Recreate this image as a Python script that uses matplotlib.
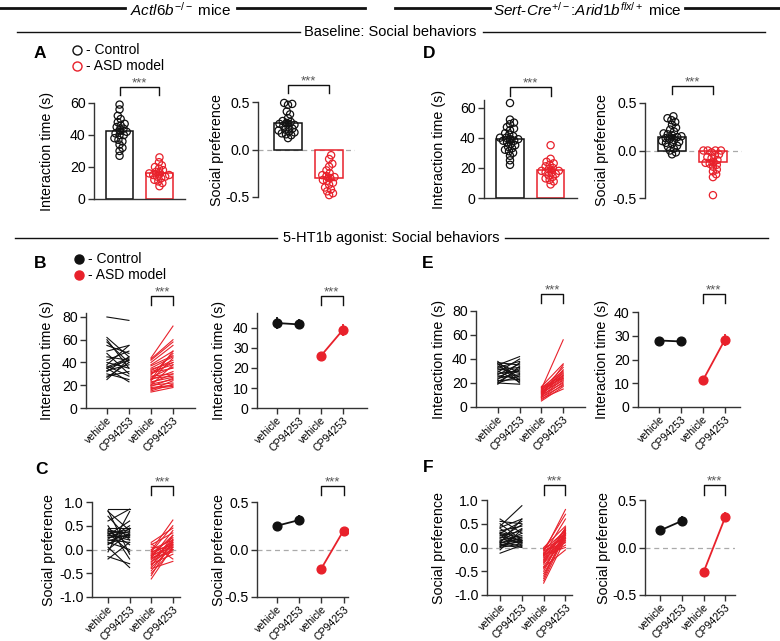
import numpy as np
import matplotlib
matplotlib.use('Agg')
import matplotlib.pyplot as plt
from matplotlib.lines import Line2D
from matplotlib import transforms

plt.rcParams['font.family'] = ['Liberation Sans', 'DejaVu Sans']
plt.rcParams['mathtext.fontset'] = 'custom'
plt.rcParams['mathtext.rm'] = 'Liberation Sans'
plt.rcParams['mathtext.it'] = 'Liberation Sans:italic'
plt.rcParams['axes.unicode_minus'] = False

W, H = 780, 641
RED = '#e8212b'
BLK = '#111111'
AXC = '#333333'

# ---- Baseline (A, D): individual animals ----
a_time_ctrl = [59, 56, 52, 50, 48, 47, 46, 45, 44, 43, 42, 41, 40, 40, 38, 37, 36, 34, 32, 30, 27]
a_time_asd = [26, 23, 21, 20, 19, 18, 17, 16, 16, 15, 15, 14, 14, 13, 12, 11, 10, 8]
a_pref_ctrl = [0.49, 0.48, 0.47, 0.40, 0.37, 0.33, 0.30, 0.29, 0.28, 0.27, 0.26,
               0.25, 0.24, 0.22, 0.21, 0.20, 0.19, 0.18, 0.17, 0.16, 0.15, 0.12]
a_pref_asd = [-0.06, -0.10, -0.15, -0.18, -0.22, -0.25, -0.27, -0.28, -0.29, -0.30,
              -0.32, -0.33, -0.35, -0.37, -0.40, -0.42, -0.44, -0.46, -0.48]
d_time_ctrl = [63, 52, 50, 49, 47, 46, 45, 43, 42, 41, 40, 40, 39, 39, 38, 38, 37, 36,
               35, 34, 33, 32, 31, 30, 28, 25, 22]
d_time_asd = [35, 26, 24, 23, 22, 21, 20, 19, 18, 18, 17, 17, 16, 15, 14, 13, 12, 11, 9]
d_pref_ctrl = [0.36, 0.34, 0.32, 0.30, 0.27, 0.24, 0.22, 0.20, 0.18, 0.17, 0.16, 0.15,
               0.14, 0.13, 0.12, 0.11, 0.10, 0.09, 0.08, 0.07, 0.05, 0.04, 0.02, 0.0, -0.02, -0.04]
d_pref_asd = [0.0, 0.0, 0.0, 0.0, -0.02, -0.04, -0.05, -0.07, -0.08, -0.10, -0.12, -0.13,
              -0.14, -0.15, -0.17, -0.20, -0.22, -0.25, -0.28, -0.47]

# ---- 5-HT1b agonist: paired (vehicle, CP94253) ----
b_ctrl = [(80, 77), (62, 45), (60, 35), (58, 40), (55, 48), (50, 55), (48, 30), (45, 42),
          (42, 50), (40, 35), (38, 55), (37, 28), (36, 44), (35, 42), (33, 38), (32, 45),
          (30, 25), (28, 32), (27, 40), (25, 43), (35, 23)]
b_asd = [(44, 72), (43, 60), (42, 58), (40, 55), (38, 50), (37, 46), (35, 45), (34, 40),
         (33, 42), (32, 38), (31, 35), (30, 40), (29, 48), (28, 30), (27, 36), (26, 28),
         (25, 32), (24, 44), (23, 27), (22, 30), (21, 25), (20, 22), (19, 26), (18, 20),
         (17, 19), (16, 24), (15, 21), (14, 18), (20, 38), (25, 50)]
e_ctrl = [(38, 22), (37, 35), (36, 20), (35, 42), (34, 25), (33, 38), (32, 28), (31, 33),
          (30, 21), (29, 40), (28, 30), (27, 36), (26, 24), (25, 32), (24, 27), (23, 37),
          (22, 23), (21, 31), (20, 26), (19, 34), (20, 19), (36, 29)]
e_asd = [(17, 36), (16, 30), (15, 56), (14, 28), (14, 33), (13, 25), (13, 26), (12, 22),
         (12, 29), (11, 24), (11, 31), (10, 20), (10, 27), (9, 23), (9, 35), (8, 18),
         (8, 21), (7, 15), (6, 19), (5, 17), (16, 26), (15, 24)]
c_ctrl = [(0.85, 0.85), (0.82, -0.1), (0.80, 0.4), (0.70, 0.2), (0.60, 0.85), (0.50, -0.2),
          (0.45, 0.45), (0.42, 0.3), (0.40, 0.1), (0.38, 0.35), (0.35, 0.25), (0.33, 0.42),
          (0.30, 0.2), (0.28, 0.38), (0.25, 0.30), (0.22, 0.5), (0.20, 0.15), (0.18, 0.32),
          (0.15, 0.0), (0.12, 0.28), (0.10, 0.45), (0.05, -0.38), (0.0, 0.35), (-0.05, 0.8),
          (-0.15, -0.3), (-0.2, 0.15), (0.3, 0.6), (0.35, -0.05)]
c_asd = [(0.15, 0.45), (0.1, 0.35), (0.05, 0.0), (0.0, 0.2), (-0.02, 0.62), (-0.05, 0.1),
         (-0.08, 0.25), (-0.1, 0.15), (-0.12, 0.05), (-0.13, 0.3), (-0.15, 0.12), (-0.17, -0.05),
         (-0.18, 0.4), (-0.2, 0.08), (-0.22, 0.18), (-0.25, 0.0), (-0.27, 0.22), (-0.3, -0.1),
         (-0.32, 0.1), (-0.35, 0.3), (-0.38, 0.05), (-0.4, -0.25), (-0.45, 0.15), (-0.5, 0.0),
         (-0.55, 0.2), (-0.62, 0.05), (0.12, -0.2), (-0.05, 0.5)]
f_ctrl = [(0.6, 0.3), (0.55, 0.5), (0.5, 0.15), (0.45, 0.88), (0.42, 0.6), (0.4, 0.1),
          (0.35, 0.45), (0.32, 0.2), (0.3, 0.55), (0.28, 0.05), (0.25, 0.35), (0.22, 0.15),
          (0.2, 0.48), (0.18, 0.1), (0.15, 0.25), (0.13, 0.4), (0.12, 0.02), (0.1, 0.18),
          (0.08, 0.3), (0.06, 0.12), (0.05, 0.0), (0.03, 0.22), (0.02, 0.15), (0.0, 0.08),
          (-0.05, 0.38), (-0.12, 0.05), (0.1, 0.6), (0.3, 0.12)]
f_asd = [(0.0, 0.45), (-0.02, 0.2), (-0.05, 0.35), (-0.07, 0.1), (-0.1, 0.8), (-0.12, 0.3),
         (-0.13, 0.25), (-0.15, 0.0), (-0.17, 0.4), (-0.18, 0.15), (-0.2, 0.32), (-0.22, 0.05),
         (-0.25, 0.38), (-0.27, 0.2), (-0.3, 0.28), (-0.32, 0.12), (-0.35, 0.42), (-0.4, 0.25),
         (-0.42, -0.05), (-0.45, 0.3), (-0.5, 0.35), (-0.55, 0.22), (-0.6, 0.3), (-0.65, 0.35),
         (-0.7, 0.28), (-0.75, 0.18), (-0.05, 0.7), (-0.15, 0.6)]

# group means +- SEM (vehicle, CP94253)
b_mean_ctrl, b_sem_ctrl = [42.5, 41.8], [2.8, 2.5]
b_mean_asd, b_sem_asd = [26.0, 39.0], [1.2, 3.0]
e_mean_ctrl, e_sem_ctrl = [28.0, 27.6], [0.9, 0.9]
e_mean_asd, e_sem_asd = [11.2, 28.2], [1.0, 2.5]
c_mean_ctrl, c_sem_ctrl = [0.25, 0.31], [0.04, 0.05]
c_mean_asd, c_sem_asd = [-0.20, 0.20], [0.02, 0.03]
f_mean_ctrl, f_sem_ctrl = [0.18, 0.28], [0.03, 0.05]
f_mean_asd, f_sem_asd = [-0.26, 0.32], [0.04, 0.05]

xlabels = ['vehicle', 'CP94253', 'vehicle', 'CP94253']

fig = plt.figure(figsize=(W / 100, H / 100), dpi=100)


def fy(y):
    return 1 - y / H


def add_ax(x0, x1, yt, yb):
    return fig.add_axes([x0 / W, 1 - yb / H, (x1 - x0) / W, (yb - yt) / H])


def style(ax, bottom=True):
    for s in ['top', 'right']:
        ax.spines[s].set_visible(False)
    for s in ['left', 'bottom']:
        ax.spines[s].set_color(AXC)
        ax.spines[s].set_linewidth(1.0)
    ax.tick_params(colors=AXC, width=1.0, length=4, labelsize=10.2, labelcolor='black', pad=2)
    if not bottom:
        ax.spines['bottom'].set_visible(False)
        ax.set_xticks([])


def ylabel(ax, text, xc):
    ax.set_ylabel(text, fontsize=10.3)
    tr = transforms.blended_transform_factory(fig.transFigure, ax.transAxes)
    ax.yaxis.set_label_coords((xc + 6) / W, 0.5, transform=tr)


def bracket(ax, x0, x1, ytop, ybot):
    tr = transforms.blended_transform_factory(ax.transData, fig.transFigure)
    ax.plot([x0, x0, x1, x1], [fy(ybot), fy(ytop), fy(ytop), fy(ybot)], transform=tr,
            color=BLK, lw=1.0, clip_on=False)
    ax.text((x0 + x1) / 2, fy(ytop - 0.5), '***', transform=tr, ha='center', va='baseline',
            fontsize=9.5, color='#555555')


def swarm_x(ax, xc, vals, d=4.3):
    disp = ax.transData.transform(np.column_stack([np.full(len(vals), xc), vals]))
    x0 = disp[0, 0]
    ys = disp[:, 1]
    xs = np.full(len(vals), x0)
    placed = []
    for i in np.argsort(ys):
        y = ys[i]
        cands = [0.0]
        for px, py in placed:
            dy = y - py
            if abs(dy) < d:
                dx = np.sqrt(d * d - dy * dy)
                cands += [px - x0 + dx, px - x0 - dx]
        cands.sort(key=abs)
        pick = cands[-1]
        for c in cands:
            if all((x0 + c - px) ** 2 + (y - py) ** 2 >= d * d - 1e-6 for px, py in placed):
                pick = c
                break
        xs[i] = x0 + pick
        placed.append((x0 + pick, y))
    return ax.transData.inverted().transform(np.column_stack([xs, ys]))[:, 0]


def bar_panel(box, xlim, ylim, yticks, ctrl, asd, label, lx, brk, pref=False):
    ax = add_ax(*box)
    ax.set_xlim(*xlim)
    ax.set_ylim(*ylim)
    ax.set_yticks(yticks)
    if pref:
        ax.set_yticklabels(['%.1f' % t for t in yticks])
    style(ax, bottom=not pref)
    if not pref:
        ax.set_xticks([])
    if pref:
        ax.axhline(0, color='#aaaaaa', ls=(0, (4, 3)), lw=0.9, zorder=0)
    for i, (vals, col) in enumerate([(ctrl, BLK), (asd, RED)]):
        vals = np.array(vals)
        m = vals.mean()
        sem = vals.std(ddof=1) / np.sqrt(len(vals))
        ax.bar(i, m, 0.67, fill=False, edgecolor=col, lw=1.1, zorder=1)
        xs = swarm_x(ax, i, vals)
        ax.scatter(xs, vals, s=27, facecolors='none', edgecolors=col, linewidths=0.9,
                   zorder=3, clip_on=False)
        ax.errorbar(i, m, yerr=sem, color=col, capsize=3, lw=1.3, capthick=1.3, zorder=4)
    ylabel(ax, label, lx)
    bracket(ax, 0, 1, *brk)
    return ax


def xt(ax):
    ax.set_xticks([0, 1, 2, 3])
    ax.set_xticklabels(xlabels, rotation=45, ha='right', rotation_mode='anchor', fontsize=7.6)
    ax.tick_params(axis='x', pad=1)


def paired_panel(box, xlim, ylim, yticks, ctrl, asd, label, lx, brk, pref=False):
    ax = add_ax(*box)
    ax.set_xlim(*xlim)
    ax.set_ylim(*ylim)
    ax.set_yticks(yticks)
    if pref:
        ax.set_yticklabels(['%.1f' % t for t in yticks])
        ax.axhline(0, color='#aaaaaa', ls=(0, (4, 3)), lw=0.9, zorder=0)
    style(ax)
    xt(ax)
    c = np.array(ctrl).T
    a = np.array(asd).T
    ax.plot([0, 1], c, color=BLK, lw=0.8)
    ax.plot([2, 3], a, color=RED, lw=0.8)
    ylabel(ax, label, lx)
    bracket(ax, 2, 3, *brk)
    return ax


def mean_panel(box, xlim, ylim, yticks, mc, sc, ma, sa, label, lx, brk, pref=False):
    ax = add_ax(*box)
    ax.set_xlim(*xlim)
    ax.set_ylim(*ylim)
    ax.set_yticks(yticks)
    if pref:
        ax.set_yticklabels(['%.1f' % t for t in yticks])
        ax.axhline(0, color='#aaaaaa', ls=(0, (4, 3)), lw=0.9, zorder=0)
    style(ax)
    xt(ax)
    ax.errorbar([0, 1], mc, yerr=sc, color=BLK, marker='o', ms=6.3, lw=1.3, capsize=0)
    ax.errorbar([2, 3], ma, yerr=sa, color=RED, marker='o', ms=6.3, lw=1.3, capsize=0)
    ylabel(ax, label, lx)
    bracket(ax, 2, 3, *brk)
    return ax


IT = 'Interaction time (s)'
SP = 'Social preference'

# A / D
bar_panel((94, 185, 103, 199), (-0.64, 1.64), (0, 60), [0, 20, 40, 60],
          a_time_ctrl, a_time_asd, IT, 48, (87, 95))
bar_panel((258, 355, 102, 197), (-0.73, 1.63), (-0.5, 0.5), [-0.5, 0.0, 0.5],
          a_pref_ctrl, a_pref_asd, SP, 218, (85, 93), pref=True)
bar_panel((484, 577, 100, 198), (-0.64, 1.65), (0, 65), [0, 20, 40, 60],
          d_time_ctrl, d_time_asd, IT, 440, (87, 96))
bar_panel((645, 742, 103, 198), (-0.66, 1.71), (-0.5, 0.5), [-0.5, 0.0, 0.5],
          d_pref_ctrl, d_pref_asd, SP, 603, (86, 94), pref=True)

# B / E
paired_panel((86, 195, 313, 408), (-0.95, 4.0), (0, 83.5), [0, 20, 40, 60, 80],
             b_ctrl, b_asd, IT, 48, (296, 305))
mean_panel((257, 367, 313, 408), (-0.9, 4.1), (0, 47.5), [0, 10, 20, 30, 40],
           b_mean_ctrl, b_sem_ctrl, b_mean_asd, b_sem_asd, IT, 220, (296, 305))
paired_panel((476, 585, 311, 407), (-1.0, 4.0), (0, 80), [0, 20, 40, 60, 80],
             e_ctrl, e_asd, IT, 440, (294, 303))
mean_panel((638, 740, 312, 407), (-0.97, 3.7), (0, 40), [0, 10, 20, 30, 40],
           e_mean_ctrl, e_sem_ctrl, e_mean_asd, e_sem_asd, IT, 603, (294, 303))

# C / F
paired_panel((92, 180, 502, 597), (-0.74, 3.33), (-1, 1), [-1.0, -0.5, 0.0, 0.5, 1.0],
             c_ctrl, c_asd, SP, 50, (486, 495), pref=True)
mean_panel((257, 348, 502, 597), (-0.9, 3.2), (-0.5, 0.5), [-0.5, 0.0, 0.5],
           c_mean_ctrl, c_sem_ctrl, c_mean_asd, c_sem_asd, SP, 220, (486, 495), pref=True)
paired_panel((487, 572, 500, 595), (-0.6, 3.3), (-1, 1), [-1.0, -0.5, 0.0, 0.5, 1.0],
             f_ctrl, f_asd, SP, 440, (485, 495), pref=True)
mean_panel((645, 735, 500, 595), (-0.7, 3.45), (-0.5, 0.5), [-0.5, 0.0, 0.5],
           f_mean_ctrl, f_sem_ctrl, f_mean_asd, f_sem_asd, SP, 605, (485, 495), pref=True)


# headers and separators
def hline(x0, x1, y, lw):
    fig.add_artist(Line2D([x0 / W, x1 / W], [fy(y), fy(y)], transform=fig.transFigure,
                          color=BLK, lw=lw))


hline(0, 125, 8, 2.0)
hline(237, 365, 8, 2.0)
fig.text(181 / W, fy(10), r'$\mathit{Actl6b}^{\mathit{-/-}}$ mice', ha='center', va='center',
         fontsize=11)
hline(395, 490, 8, 2.0)
hline(685, 780, 8, 2.0)
fig.text(587 / W, fy(10), r'$\mathit{Sert}$-$\mathit{Cre}^{+/-}$:$\mathit{Arid1b}^{flx/+}$ mice',
         ha='center', va='center', fontsize=11)

hline(17, 300, 32, 1.0)
hline(483, 765, 32, 1.0)
fig.text(390 / W, fy(32), 'Baseline: Social behaviors', ha='center', va='center', fontsize=10.5)
hline(15, 277, 238, 1.0)
hline(505, 768, 238, 1.0)
fig.text(391 / W, fy(238), '5-HT1b agonist: Social behaviors', ha='center', va='center',
         fontsize=10.5)

# panel letters
for letter, x, y in [('A', 40, 53), ('D', 429, 53), ('B', 40, 263), ('E', 428, 263),
                     ('C', 42, 470), ('F', 428, 468)]:
    fig.text(x / W, fy(y), letter, ha='center', va='center', fontsize=12.5, fontweight='bold')


# legends
def legend_item(x, y, col, filled, text):
    fig.add_artist(Line2D([x / W], [fy(y)], transform=fig.transFigure, marker='o', ms=6.5,
                          mfc=col if filled else 'white', mec=col, mew=1.0, ls='none'))
    fig.text((x + 9) / W, fy(y), text, ha='left', va='center', fontsize=10)


legend_item(77, 50, BLK, False, '- Control')
legend_item(77, 66, RED, False, '- ASD model')
legend_item(79, 259, BLK, True, '- Control')
legend_item(79, 275, RED, True, '- ASD model')

fig.savefig('out.png', dpi=100)
